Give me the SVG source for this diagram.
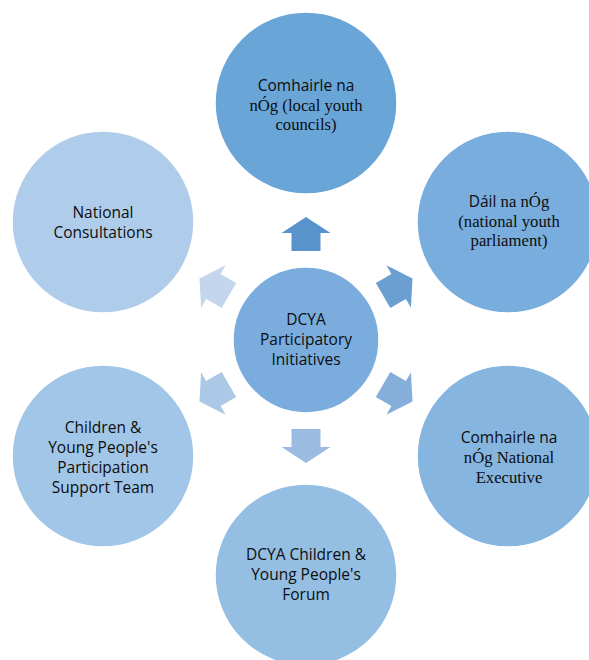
<svg xmlns="http://www.w3.org/2000/svg" width="589" height="660" viewBox="0 0 589 660">
<style>
.node circle{stroke:#ffffff;stroke-width:1.5}
.t{font-size:15px;fill:#0d0d0d;text-anchor:middle}
.s{font-family:"Open Sans","Noto Sans",sans-serif;font-size:15.5px}
.r{font-family:"Liberation Serif","Times New Roman",serif;font-size:16.7px}
</style>
<defs>
<polygon id="arr" points="-14.5,-89 -14.5,-107 -24.5,-107 0,-123 24.5,-107 14.5,-107 14.5,-89"/>
</defs>
<rect width="589" height="660" fill="#ffffff"/>
<g id="connectors">
<use href="#arr" transform="translate(306,340)" fill="#5893cc"/>
<use href="#arr" transform="translate(306,340) rotate(60)" fill="#6c9fd1"/>
<use href="#arr" transform="translate(306,340) rotate(120)" fill="#85aedb"/>
<use href="#arr" transform="translate(306,340) rotate(180)" fill="#9bbbe1"/>
<use href="#arr" transform="translate(306,340) rotate(240)" fill="#acc8e7"/>
<use href="#arr" transform="translate(306,340) rotate(300)" fill="#c4d6ed"/>
</g>
<g id="center" class="node">
<circle cx="306" cy="340" r="73" fill="#7aaddd"/>
<text class="t s" x="306" y="325">DCYA</text>
<text class="t s" x="306" y="345">Participatory</text>
<text class="t s" x="306" y="365">Initiatives</text>
</g>
<g id="comhairle" class="node">
<circle cx="306" cy="103" r="91" fill="#6aa5d8"/>
<text class="t s" x="306" y="91">Comhairle na</text>
<text class="t r" x="306" y="111">nÓg (local youth</text>
<text class="t r" x="306" y="130">councils)</text>
</g>
<g id="dail" class="node">
<circle cx="508" cy="222" r="91" fill="#78addd"/>
<text class="t" x="509" y="207"><tspan class="s">Dáil</tspan><tspan class="r"> na nÓg</tspan></text>
<text class="t r" x="509" y="227">(national youth</text>
<text class="t r" x="509" y="246">parliament)</text>
</g>
<g id="executive" class="node">
<circle cx="508" cy="456" r="91" fill="#86b5e0"/>
<text class="t s" x="509" y="443">Comhairle na</text>
<text class="t r" x="509" y="463">nÓg National</text>
<text class="t r" x="509" y="483">Executive</text>
</g>
<g id="forum" class="node">
<circle cx="306" cy="575" r="91" fill="#95bee3"/>
<text class="t s" x="306" y="560">DCYA Children &amp;</text>
<text class="t s" x="306" y="580">Young People's</text>
<text class="t s" x="306" y="600">Forum</text>
</g>
<g id="support" class="node">
<circle cx="103" cy="456" r="91" fill="#a2c6e7"/>
<text class="t s" x="103" y="433">Children &amp;</text>
<text class="t s" x="103" y="453">Young People's</text>
<text class="t s" x="103" y="473">Participation</text>
<text class="t s" x="103" y="493">Support Team</text>
</g>
<g id="consultations" class="node">
<circle cx="103" cy="222" r="91" fill="#afcdea"/>
<text class="t s" x="103" y="218">National</text>
<text class="t s" x="103" y="238">Consultations</text>
</g>
</svg>
